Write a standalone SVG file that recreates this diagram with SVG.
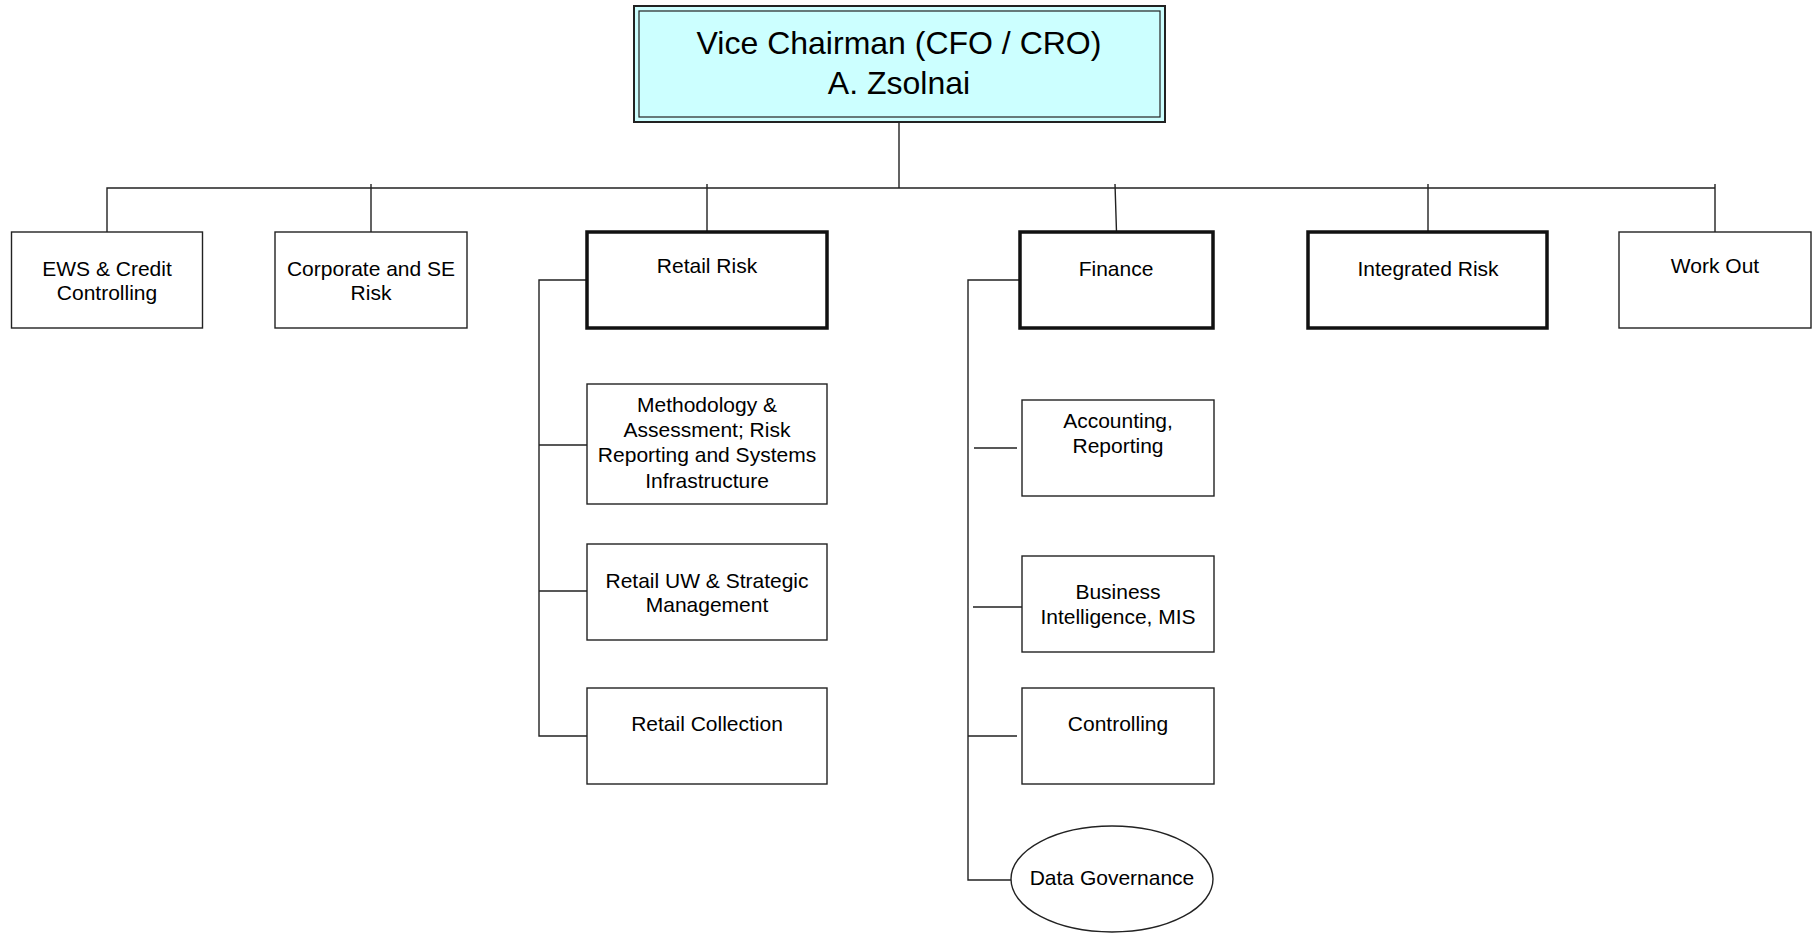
<svg xmlns="http://www.w3.org/2000/svg" width="1814" height="933" viewBox="0 0 1814 933">
<style>
text{font-family:"Liberation Sans",Arial,sans-serif;font-size:21px;fill:#000;text-anchor:middle}
.box{fill:#fff;stroke:#222;stroke-width:1.4}
.thick{fill:#fff;stroke:#111;stroke-width:3.5}
.ln{stroke:#222;stroke-width:1.4;fill:none}
.top{font-size:32px}
</style>
<rect width="1814" height="933" fill="#fff"/>
<g id="connectors">
<path class="ln" d="M899 122V188M107 232V188H1715M371 184V232M707 184V232M1115 184L1116.5 232M1428 184V232M1715 184V232"/>
<path class="ln" d="M587 280H539V736H587M539 445H587M539 591H587"/>
<path class="ln" d="M1020 280H968V880H1011M974 448H1017M973 607H1022M968 736H1017"/>
</g>
<g id="n-vice">
<rect x="634" y="6" width="531" height="116" fill="#ccffff" stroke="#222" stroke-width="2"/>
<rect x="639" y="11" width="521" height="106" fill="none" stroke="#222" stroke-width="1.2"/>
<text class="top" x="899" y="54">Vice Chairman (CFO / CRO)</text>
<text class="top" x="899" y="94">A. Zsolnai</text>
</g>
<g id="n-ews"><rect class="box" x="11.5" y="232" width="191" height="96"/><text x="107" y="276">EWS &amp; Credit</text><text x="107" y="300">Controlling</text></g>
<g id="n-corp"><rect class="box" x="275" y="232" width="192" height="96"/><text x="371" y="276">Corporate and SE</text><text x="371" y="300">Risk</text></g>
<g id="n-retail"><rect class="thick" x="587" y="232" width="240" height="96"/><text x="707" y="273">Retail Risk</text></g>
<g id="n-finance"><rect class="thick" x="1020" y="232" width="193" height="96"/><text x="1116" y="276">Finance</text></g>
<g id="n-integrated"><rect class="thick" x="1308" y="232" width="239" height="96"/><text x="1428" y="276">Integrated Risk</text></g>
<g id="n-workout"><rect class="box" x="1619" y="232" width="192" height="96"/><text x="1715" y="273">Work Out</text></g>
<g id="n-method"><rect class="box" x="587" y="384" width="240" height="120"/><text x="707" y="412">Methodology &amp;</text><text x="707" y="437">Assessment; Risk</text><text x="707" y="462">Reporting and Systems</text><text x="707" y="488">Infrastructure</text></g>
<g id="n-uw"><rect class="box" x="587" y="544" width="240" height="96"/><text x="707" y="588">Retail UW &amp; Strategic</text><text x="707" y="612">Management</text></g>
<g id="n-collection"><rect class="box" x="587" y="688" width="240" height="96"/><text x="707" y="731">Retail Collection</text></g>
<g id="n-accounting"><rect class="box" x="1022" y="400" width="192" height="96"/><text x="1118" y="428">Accounting,</text><text x="1118" y="453">Reporting</text></g>
<g id="n-bi"><rect class="box" x="1022" y="556" width="192" height="96"/><text x="1118" y="599">Business</text><text x="1118" y="624">Intelligence, MIS</text></g>
<g id="n-controlling"><rect class="box" x="1022" y="688" width="192" height="96"/><text x="1118" y="731">Controlling</text></g>
<g id="n-datagov"><ellipse class="box" cx="1112" cy="879" rx="101" ry="53"/><text x="1112" y="885">Data Governance</text></g>
</svg>
